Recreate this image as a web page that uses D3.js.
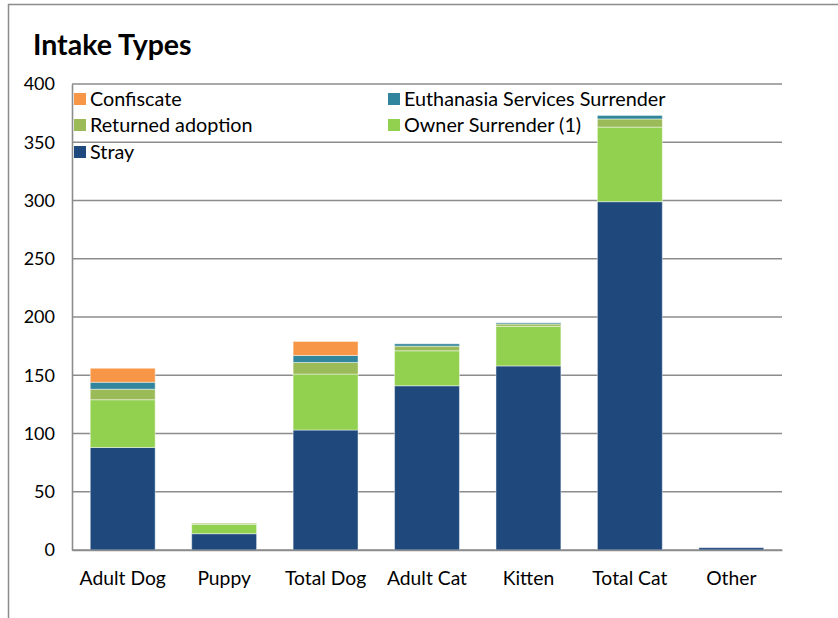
<!DOCTYPE html>
<html>
<head>
<meta charset="utf-8">
<script src="https://cdn.jsdelivr.net/npm/d3@7"></script>
<style>
  body { margin: 0; background: #fff; }
  svg { display: block; font-family: Lato, "Open Sans", sans-serif; }
</style>
</head>
<body>
<div id="chart"></div>
<script>
// Chart data
const categories = ["Adult Dog", "Puppy", "Total Dog", "Adult Cat", "Kitten", "Total Cat", "Other"];
const stray = [88, 14, 103, 141, 158, 299, 2];
const ownerSurrender = [41, 8, 48, 30, 34, 64, 0];
const returnedAdoption = [9, 1, 10, 4, 2, 7, 0];
const euthanasiaSurrender = [6, 0, 6, 2, 1, 3, 0];
const confiscate = [12, 0, 12, 0, 0, 0, 0];
const yTicks = [0, 50, 100, 150, 200, 250, 300, 350, 400];

// stacking order bottom -> top
const seriesList = [
  { name: "Stray", values: stray, color: "#1F497D" },
  { name: "Owner Surrender (1)", values: ownerSurrender, color: "#92D050" },
  { name: "Returned adoption", values: returnedAdoption, color: "#9BBB59" },
  { name: "Euthanasia Services Surrender", values: euthanasiaSurrender, color: "#31859C" },
  { name: "Confiscate", values: confiscate, color: "#F79646" }
];
// legend order as shown
const legendOrder = ["Confiscate", "Euthanasia Services Surrender", "Returned adoption", "Owner Surrender (1)", "Stray"];

const width = 838;
const height = 618;
const margin = { top: 84, right: 56, bottom: 68, left: 72 };

const svg = d3
  .select("#chart")
  .append("svg")
  .attr("width", width)
  .attr("height", height);

// outer frame (top and left edges visible)
svg.append("line")
  .attr("x1", 8).attr("x2", width).attr("y1", 4.5).attr("y2", 4.5)
  .attr("stroke", "#8c8c8c").attr("stroke-width", 1.5);
svg.append("line")
  .attr("x1", 8.5).attr("x2", 8.5).attr("y1", 4).attr("y2", height)
  .attr("stroke", "#8c8c8c").attr("stroke-width", 1.5);

// Title
svg.append("text")
  .attr("x", 33)
  .attr("y", 55)
  .style("font-weight", "bold")
  .style("font-size", "28.5px")
  .attr("fill", "#000")
  .text("Intake Types");

// Scales
const xScale = d3
  .scaleBand()
  .domain(categories)
  .range([margin.left, width - margin.right])
  .paddingInner(0.36)
  .paddingOuter(0.18);

const yScale = d3
  .scaleLinear()
  .domain([0, 400])
  .range([height - margin.bottom, margin.top]);

// Gridlines
svg.append("g")
  .selectAll("line")
  .data(yTicks)
  .enter()
  .append("line")
  .attr("x1", margin.left)
  .attr("x2", width - margin.right)
  .attr("y1", (d) => yScale(d))
  .attr("y2", (d) => yScale(d))
  .attr("stroke", "#8c8c8c")
  .attr("stroke-width", 1.6);

// Y axis
const yAxis = d3.axisLeft(yScale).tickValues(yTicks).tickSize(0).tickPadding(17);
const yG = svg.append("g")
  .attr("transform", `translate(${margin.left}, 0)`)
  .call(yAxis);
yG.select(".domain").attr("stroke", "#8c8c8c").attr("stroke-width", 1.6);
yG.selectAll("text").style("font-size", "18px").attr("fill", "#000")
  .style("font-family", "Lato, 'Open Sans', sans-serif");

// Stacked bars
const rows = categories.map((c, i) => {
  const row = { category: c };
  seriesList.forEach((s) => (row[s.name] = s.values[i]));
  return row;
});
const stack = d3.stack().keys(seriesList.map((s) => s.name));
const stacked = stack(rows);

svg.append("g")
  .selectAll("g")
  .data(stacked)
  .enter()
  .append("g")
  .attr("fill", (d, i) => seriesList[i].color)
  .selectAll("rect")
  .data((d) => d.filter((p) => p[1] - p[0] > 0))
  .enter()
  .append("rect")
  .attr("x", (d) => xScale(d.data.category))
  .attr("y", (d) => yScale(d[1]))
  .attr("width", xScale.bandwidth())
  .attr("height", (d) => yScale(d[0]) - yScale(d[1]))
  .attr("stroke", "rgba(255,255,255,0.45)")
  .attr("stroke-width", 1);

// X axis baseline + labels
const xAxis = d3.axisBottom(xScale).tickSize(0).tickPadding(21);
const xG = svg.append("g")
  .attr("transform", `translate(0, ${yScale(0)})`)
  .call(xAxis);
xG.select(".domain").attr("stroke", "#8c8c8c").attr("stroke-width", 1.6);
xG.selectAll("text").style("font-size", "19.3px").attr("fill", "#000")
  .style("font-family", "Lato, 'Open Sans', sans-serif");

// Legend
const legendCols = [74, 388];
const legendRows = [99, 125, 152];
const legend = svg.append("g")
  .selectAll("g")
  .data(legendOrder)
  .enter()
  .append("g")
  .attr("transform", (d, i) => `translate(${legendCols[i % 2]}, ${legendRows[Math.floor(i / 2)]})`);

legend.append("rect")
  .attr("x", 0)
  .attr("y", -6)
  .attr("width", 12)
  .attr("height", 12)
  .attr("fill", (d) => seriesList.find((s) => s.name === d).color);

legend.append("text")
  .attr("x", 16)
  .attr("y", 0)
  .attr("dy", "0.35em")
  .style("font-size", "19.8px")
  .attr("fill", "#000")
  .text((d) => d);
</script>
</body>
</html>
